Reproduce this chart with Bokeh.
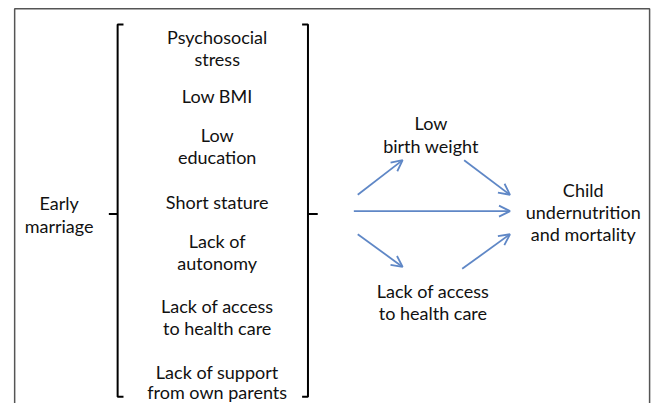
from bokeh.plotting import figure
from bokeh.models import Range1d, Arrow, OpenHead, ColumnDataSource
from bokeh.core.properties import value
from bokeh.embed import file_html
from bokeh.resources import INLINE

# ---- content ----
factor_lines = ["Psychosocial", "stress", "Low BMI", "Low", "education",
                "Short stature", "Lack of", "autonomy", "Lack of access",
                "to health care", "Lack of support", "from own parents"]
factor_y = [38, 61, 99, 140, 163, 210, 250, 273, 318, 341, 386, 407]
factor_x = [222] * len(factor_lines)

left_lines = ["Early", "marriage"]
left_x = [60, 60]
left_y = [211, 234]

right_lines = ["Low", "birth weight", "Child", "undernutrition", "and mortality",
               "Lack of access", "to health care"]
right_x = [441, 441, 597, 597, 597, 443, 443]
right_y = [127, 151, 197, 220, 243, 302, 325]

# arrows: start x, start y, end x, end y (diagram layout units)
arrow_x0 = [366, 475, 362, 366, 473]
arrow_y0 = [202, 166, 219, 243, 279]
arrow_x1 = [412, 522, 522, 412, 522]
arrow_y1 = [166, 202, 219, 277, 243]

W, H = 653, 403
p = figure(width=W, height=H, output_backend="svg", toolbar_location=None,
           x_range=Range1d(0, 669), y_range=Range1d(419, 0),
           min_border=0, outline_line_color=None)
p.axis.visible = False
p.grid.visible = False
p.background_fill_color = "white"
p.border_fill_color = "white"

# frame
p.line([14.5, 14.5, 665, 665], [430, 8.5, 8.5, 430], line_color="#555555", line_width=1.5)

# brackets
p.line([126, 120, 120, 126], [25, 25, 412, 412], line_color="black", line_width=2)
p.line([120, 111], [222, 222], line_color="black", line_width=2)
p.line([309, 315, 315, 309], [25, 25, 412, 412], line_color="black", line_width=2)
p.line([315, 325], [222, 222], line_color="black", line_width=2)

font = value("Lato")
tc = "#111111"
for xs, ys, ts in [(factor_x, factor_y, factor_lines), (left_x, left_y, left_lines),
                   (right_x, right_y, right_lines)]:
    src = ColumnDataSource(dict(x=xs, y=ys, t=ts))
    p.text(x="x", y="y", text="t", source=src, text_font=font, text_font_size="18px",
           text_align="center", text_baseline="middle", text_color=tc)

acol = "#5f87c6"
for x0, y0, x1, y1 in zip(arrow_x0, arrow_y0, arrow_x1, arrow_y1):
    p.add_layout(Arrow(x_start=x0, y_start=y0, x_end=x1, y_end=y1,
                       line_color=acol, line_width=1.8,
                       end=OpenHead(size=11, line_color=acol, line_width=1.8)))

open("out.html", "w").write(file_html(p, INLINE))
